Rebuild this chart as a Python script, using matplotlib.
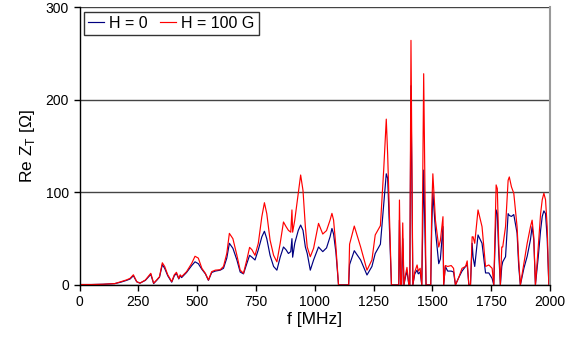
import matplotlib
matplotlib.use("Agg")
import matplotlib.pyplot as plt
import numpy as np

plt.rcParams["font.family"] = ["Liberation Sans", "DejaVu Sans"]
plt.rcParams["mathtext.fontset"] = "custom"
plt.rcParams["mathtext.rm"] = "Liberation Sans"

# frequency [MHz], Re Z_T at H = 0 and at H = 100 G
freq = [0, 50, 100, 150, 175, 200, 215, 229, 243, 257, 280, 303, 315, 328, 340,
        352, 362, 375, 392, 403, 412, 422, 428, 434, 455, 477, 491, 505, 520, 535,
        548, 562, 577, 598, 612, 626, 637, 652, 669, 683, 697, 711, 723, 733, 746,
        760, 775, 786, 796, 810, 825, 839, 853, 867, 878, 888, 898, 903, 906, 915,
        930, 940, 950, 960, 968, 981, 995, 1016, 1034, 1050, 1065, 1073, 1080, 1090,
        1101, 1144, 1148, 1168, 1195, 1222, 1243, 1257, 1279, 1293, 1304, 1310, 1315,
        1321, 1326, 1357, 1360, 1365, 1369, 1374, 1379, 1385, 1392, 1400, 1404, 1409,
        1417, 1425, 1435, 1440, 1448, 1455, 1463, 1473, 1493, 1497, 1502, 1513, 1527,
        1534, 1545, 1548, 1555, 1565, 1580, 1590, 1598, 1612, 1626, 1641, 1648, 1655,
        1662, 1669, 1673, 1680, 1694, 1711, 1726, 1740, 1754, 1761, 1771, 1776, 1782,
        1789, 1795, 1799, 1811, 1822, 1827, 1836, 1846, 1860, 1867, 1874, 1889, 1903,
        1917, 1924, 1931, 1938, 1950, 1960, 1967, 1974, 1981, 1988, 1995, 2000]
z_h0 = [0.5, 0.5, 0.8, 1.5, 3, 5, 6.5, 10, 3.5, 2, 5, 11.5, 1.5, 5, 8.5,
        22, 18, 10, 3, 10, 12.5, 6.5, 10, 8, 13.5, 21, 25, 23, 17, 12,
        5, 13.5, 15, 16, 18, 29, 45, 39.6, 27, 14, 12, 23, 32, 30, 27,
        38, 52, 58, 50, 32, 20, 16, 30, 41, 38, 34, 36, 50, 30, 45,
        59, 64.7, 59, 41, 34, 16, 27, 41, 36, 40, 52, 61, 55, 35,
        0, 0, 22, 37, 27, 10.8, 20, 34, 44, 87, 120, 115, 80,
        40, 0, 0, 70, 0, 0, 50, 0, 8, 15, 0, 0, 215,
        0, 12, 16, 12, 14, 0, 124, 0, 0, 60, 100, 59, 23,
        28, 63, 0, 20, 15, 15, 14, 0, 8, 15, 20, 22, 0,
        0, 45, 30, 20, 54, 45, 13, 13, 7, 0, 81, 77, 35,
        0, 20, 25, 30.5, 77, 75, 74, 76, 56, 20, 0, 18, 31,
        49, 63, 49, 0, 30, 59, 74, 80, 77, 50, 0, 0]
z_h100 = [0.5, 0.5, 0.8, 1.5, 3.5, 5.5, 7.2, 11, 3.6, 2, 5.4, 12.6, 2, 5.4, 9,
          24, 20, 11, 3.6, 11, 13.7, 7, 11, 9, 14.4, 23.4, 31, 29, 18, 12.6,
          5.4, 14.4, 16, 16.5, 20, 34, 55.7, 50, 32, 16, 12.6, 27, 40.6, 38, 32,
          45, 73.7, 88.8, 77, 48.5, 32, 25, 45, 68, 63, 59, 57, 81, 57, 70,
          99, 118.7, 102, 63, 41, 30.5, 39.6, 66.5, 55, 58.7, 70, 77.3, 70, 41,
          0, 0, 44, 63.6, 41, 16, 27, 54, 64, 124, 179, 140, 95,
          45, 0, 0, 91.7, 0, 0, 67, 0, 10, 19, 0, 0, 264,
          0, 14, 21.6, 15, 18, 0, 228, 0, 0, 80, 120, 70, 41,
          48, 73.7, 0, 21, 20, 21, 18, 0, 8, 18, 20, 26, 0,
          0, 52, 52, 45, 81, 63, 20, 21.6, 18, 0, 108, 104, 45,
          0, 41, 41, 63, 113, 116.6, 106, 99, 63, 27, 0, 23, 45,
          63, 70, 52, 0, 41, 77, 92, 99, 92, 63, 0, 0]

fig = plt.figure(figsize=(5.83, 3.47), dpi=100)
ax = fig.add_axes([0.1364, 0.1787, 0.8070, 0.8011])

ax.plot(freq, z_h0, color="#000080", lw=0.85, label="H = 0")
ax.plot(freq, z_h100, color="#ff0000", lw=0.85, label="H = 100 G")

ax.set_xlim(0, 2000)
ax.set_ylim(0, 300)
ax.set_xticks(np.arange(0, 2001, 250))
ax.set_yticks([0, 100, 200, 300])
ax.yaxis.grid(True, color="#444444", lw=1.0)
ax.set_axisbelow(True)
ax.tick_params(axis="both", direction="out", length=4, width=1, labelsize=10, colors="black")
ax.spines["top"].set_visible(False)
ax.spines["right"].set_color("#999999")
ax.spines["right"].set_linewidth(1.5)
ax.spines["left"].set_linewidth(1.0)
ax.spines["bottom"].set_linewidth(1.0)

ax.set_xlabel("f [MHz]", fontsize=12.5, labelpad=2)
ax.set_ylabel("Re Z$_\\mathrm{T}$ [\u03a9]", fontsize=12.5, labelpad=6)

leg = ax.legend(loc="upper left", ncol=2, fontsize=11.5, frameon=True, fancybox=False,
                handlelength=1.0, handletextpad=0.3, columnspacing=0.8,
                borderpad=0.25, borderaxespad=0.3)
leg.get_frame().set_edgecolor("black")
leg.get_frame().set_linewidth(1.0)

fig.savefig("out.png", dpi=100)
